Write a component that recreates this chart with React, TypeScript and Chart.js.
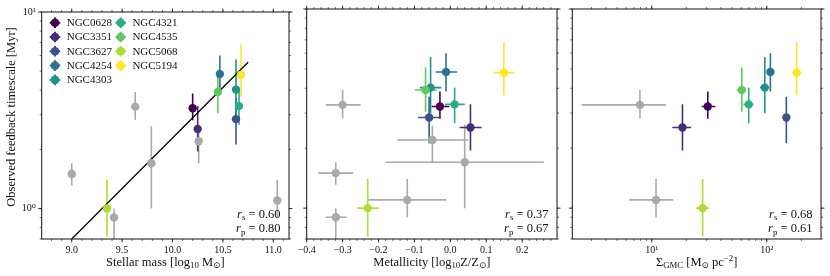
import React, { useEffect, useRef } from 'react';
import { Chart, registerables } from 'chart.js';

Chart.register(...registerables);

const W = 830;
const H = 276;
const FONT = "'Liberation Serif', 'DejaVu Serif', serif";
const INK = '#111111';

// ---------------- data ----------------
const galaxies = ['NGC0628', 'NGC3351', 'NGC3627', 'NGC4254', 'NGC4303', 'NGC4321', 'NGC4535', 'NGC5068', 'NGC5194'];
const galaxyColors = ['#440154', '#472c7a', '#3b528b', '#2c728e', '#21918c', '#28ae80', '#5ec962', '#addc30', '#fde725'];
const GRAY = '#a9a9a9';

// observed feedback timescale [Myr]
const tauFb = [3.24, 2.54, 2.85, 4.83, 4.03, 3.32, 3.92, 1.0, 4.79];
const tauFbLo = [2.81, 1.95, 2.12, 3.85, 3.0, 2.67, 3.05, 0.72, 3.69];
const tauFbHi = [3.85, 3.32, 3.63, 6.0, 5.74, 4.03, 5.08, 1.4, 6.83];

const stellarMass = [10.2, 10.25, 10.63, 10.47, 10.63, 10.66, 10.45, 9.35, 10.68];

const metallicity = [-0.029, 0.056, -0.059, -0.012, -0.055, 0.012, -0.069, -0.23, 0.149];
const metallicityLo = [-0.052, 0.026, -0.09, -0.041, -0.085, -0.015, -0.099, -0.259, 0.119];
const metallicityHi = [-0.003, 0.087, -0.027, 0.019, -0.025, 0.04, -0.038, -0.199, 0.179];

const sigmaGmc = [30.7, 18.5, 148, 107.5, 96.1, 69.7, 60.7, 27.7, 182];
const sigmaGmcLo = [27.2, 15.1, 139, 100, 87.5, 62.6, 54.9, 24.3, 167];
const sigmaGmcHi = [35.7, 22.0, 159, 115.6, 105, 76.4, 66.1, 31.5, 198];

// other galaxies (grey)
const otherTau = [3.3, 1.5, 1.7, 2.2, 0.9, 1.1];
const otherTauLo = [2.83, 1.31, 1.0, 1.7, 0.6, 0.9];
const otherTauHi = [3.92, 1.7, 2.62, 2.59, 1.0, 1.4];
const otherMass = [9.63, 9.0, 9.79, 10.26, 9.42, 11.04];
const otherMetal = [-0.3, -0.319, 0.04, -0.05, -0.319, -0.12];
const otherMetalLo = [-0.347, -0.368, -0.18, -0.148, -0.347, -0.229];
const otherMetalHi = [-0.25, -0.27, 0.26, 0.05, -0.289, -0.011];
const otherGmc = [7.9, null, null, null, null, 10.9];
const otherGmcLo = [2.46, null, null, null, null, 6.35];
const otherGmcHi = [13.3, null, null, null, null, 15.4];

// best-fit relation (stellar mass panel)
const fitMass = [9.0, 10.75];
const fitTau = [0.7, 5.55];

const corrRs = ['0.60', '0.37', '0.68'];
const corrRp = ['0.80', '0.67', '0.61'];

// ticks
const tauTicks = [1, 10];
const tauTickLabels = ['10⁰', '10¹'];
const massTicks = [9.0, 9.5, 10.0, 10.5, 11.0];
const massTickLabels = ['9.0', '9.5', '10.0', '10.5', '11.0'];
const metalTicks = [-0.4, -0.3, -0.2, -0.1, 0, 0.1, 0.2];
const metalTickLabels = ['−0.4', '−0.3', '−0.2', '−0.1', '0.0', '0.1', '0.2'];
const gmcTicks = [10, 100];
const gmcTickLabels = ['10¹', '10²'];

// ---------------- helpers ----------------
type Seg = { t: string; k?: 'sub' | 'sup'; it?: boolean };

function linearMinor(min: number, max: number, step: number) {
  const out: number[] = [];
  for (let k = Math.ceil(min / step - 1e-9); k * step <= max + 1e-9; k++) out.push(+(k * step).toFixed(6));
  return out;
}
function logMinor(min: number, max: number) {
  const out: number[] = [];
  for (let e = -2; e <= 4; e++) for (let m = 1; m <= 9; m++) {
    const v = m * Math.pow(10, e);
    if (v >= min * 0.9999 && v <= max * 1.0001) out.push(v);
  }
  return out;
}

function drawRich(ctx: CanvasRenderingContext2D, segs: Seg[], x: number, y: number, size: number, align: 'left' | 'center' | 'right') {
  const fontFor = (s: Seg) => `${s.it ? 'italic ' : ''}${s.k ? size * 0.7 : size}px ${FONT}`;
  let total = 0;
  const widths = segs.map((s) => {
    ctx.font = fontFor(s);
    const w = ctx.measureText(s.t).width;
    total += w;
    return w;
  });
  let cx = align === 'center' ? x - total / 2 : align === 'right' ? x - total : x;
  ctx.textAlign = 'left';
  ctx.textBaseline = 'alphabetic';
  segs.forEach((s, i) => {
    ctx.font = fontFor(s);
    const dy = s.k === 'sub' ? size * 0.22 : s.k === 'sup' ? -size * 0.38 : 0;
    ctx.fillText(s.t, cx, y + dy);
    cx += widths[i];
  });
}

const decorPlugin = {
  id: 'decor',
  beforeDatasetsDraw(chart: any) {
    const ctx = chart.ctx as CanvasRenderingContext2D;
    const { left, right, top, bottom } = chart.chartArea;
    const xs = chart.scales.x;
    const ys = chart.scales.y;
    ctx.save();
    ctx.beginPath();
    ctx.rect(left, top, right - left, bottom - top);
    ctx.clip();
    const metas = chart.getSortedVisibleDatasetMetas().slice().reverse();
    metas.forEach((meta: any) => {
      const ds = chart.data.datasets[meta.index];
      if (!ds.errorBars) return;
      ctx.strokeStyle = ds.errColor;
      ctx.lineWidth = 1.6;
      ds.data.forEach((p: any, j: number) => {
        const e = ds.errorBars[j];
        const px = xs.getPixelForValue(p.x);
        const py = ys.getPixelForValue(p.y);
        ctx.beginPath();
        ctx.moveTo(px, ys.getPixelForValue(e.yLo));
        ctx.lineTo(px, ys.getPixelForValue(e.yHi));
        if (e.xLo != null) {
          ctx.moveTo(xs.getPixelForValue(e.xLo), py);
          ctx.lineTo(xs.getPixelForValue(e.xHi), py);
        }
        ctx.stroke();
      });
    });
    ctx.restore();
  },
  afterDatasetsDraw(chart: any, _args: any, opts: any) {
    const ctx = chart.ctx as CanvasRenderingContext2D;
    const { left, right, top, bottom } = chart.chartArea;
    const xs = chart.scales.x;
    const ys = chart.scales.y;
    ctx.save();
    ctx.strokeStyle = INK;
    ctx.fillStyle = INK;
    // frame
    ctx.lineWidth = 1;
    ctx.strokeRect(left, top, right - left, bottom - top);
    // ticks
    const tickX = (vals: number[], len: number, lw: number) => {
      ctx.lineWidth = lw;
      ctx.beginPath();
      vals.forEach((v) => {
        const p = xs.getPixelForValue(v);
        if (p < left - 0.5 || p > right + 0.5) return;
        ctx.moveTo(p, bottom);
        ctx.lineTo(p, bottom + len);
        ctx.moveTo(p, top);
        ctx.lineTo(p, top - len);
      });
      ctx.stroke();
    };
    const tickY = (vals: number[], len: number, lw: number) => {
      ctx.lineWidth = lw;
      ctx.beginPath();
      vals.forEach((v) => {
        const p = ys.getPixelForValue(v);
        if (p < top - 0.5 || p > bottom + 0.5) return;
        ctx.moveTo(left, p);
        ctx.lineTo(left - len, p);
        ctx.moveTo(right, p);
        ctx.lineTo(right + len, p);
      });
      ctx.stroke();
    };
    tickX(opts.xMinor, 2, 0.6);
    tickX(opts.xMajor, 3.5, 0.8);
    tickY(opts.yMinor, 2, 0.6);
    tickY(opts.yMajor, 3.5, 0.8);

    // axis title
    drawRich(ctx, opts.xTitle, (left + right) / 2, 265.5, 12.5, 'center');
    if (opts.yTitle) {
      ctx.save();
      ctx.translate(10.5, 117);
      ctx.rotate(-Math.PI / 2);
      drawRich(ctx, opts.yTitle, 0, 4, 12.5, 'center');
      ctx.restore();
    }
    // correlation coefficients
    drawRich(ctx, [{ t: 'r', it: true }, { t: 's', k: 'sub' }, { t: ' = ' + opts.rs }], right - 8.5, 217.5, 12.5, 'right');
    drawRich(ctx, [{ t: 'r', it: true }, { t: 'p', k: 'sub' }, { t: ' = ' + opts.rp }], right - 8.5, 232, 12.5, 'right');

    // legend
    if (opts.legend) {
      galaxies.forEach((name, i) => {
        const col = i < 5 ? 0 : 1;
        const row = i < 5 ? i : i - 5;
        const mx = col === 0 ? 55 : 120.7;
        const my = 22.7 + row * 14.3;
        ctx.strokeStyle = galaxyColors[i];
        ctx.fillStyle = galaxyColors[i];
        ctx.lineWidth = 2;
        ctx.beginPath();
        ctx.moveTo(mx - 5.3, my);
        ctx.lineTo(mx + 5.3, my);
        ctx.moveTo(mx, my - 5.3);
        ctx.lineTo(mx, my + 5.3);
        ctx.stroke();
        ctx.beginPath();
        ctx.arc(mx, my, 4.3, 0, Math.PI * 2);
        ctx.fill();
        ctx.fillStyle = INK;
        ctx.font = `11px ${FONT}`;
        ctx.textAlign = 'left';
        ctx.textBaseline = 'middle';
        ctx.fillText(name, mx + 11.7, my + 0.5);
      });
    }
    ctx.restore();
  },
};

function galaxyDatasets(xs: number[], xLo: number[] | null, xHi: number[] | null) {
  return galaxies.map((name, i) => ({
    type: 'scatter',
    label: name,
    data: [{ x: xs[i], y: tauFb[i] }],
    errorBars: [{ xLo: xLo ? xLo[i] : null, xHi: xHi ? xHi[i] : null, yLo: tauFbLo[i], yHi: tauFbHi[i] }],
    errColor: galaxyColors[i],
    backgroundColor: galaxyColors[i],
    borderColor: galaxyColors[i],
    pointRadius: 4.2,
    pointHoverRadius: 4.2,
    pointBorderWidth: 0,
    order: 10 - i,
  }));
}

function otherDataset(xs: (number | null)[], xLo: (number | null)[] | null, xHi: (number | null)[] | null) {
  const idx = otherTau.map((_, i) => i).filter((i) => xs[i] != null);
  return {
    type: 'scatter',
    label: 'other',
    data: idx.map((i) => ({ x: xs[i], y: otherTau[i] })),
    errorBars: idx.map((i) => ({ xLo: xLo ? xLo[i] : null, xHi: xHi ? xHi[i] : null, yLo: otherTauLo[i], yHi: otherTauHi[i] })),
    errColor: GRAY,
    backgroundColor: GRAY,
    borderColor: GRAY,
    pointRadius: 4.2,
    pointHoverRadius: 4.2,
    pointBorderWidth: 0,
    order: 50,
  };
}

const Y_MIN = 0.7;
const Y_MAX = 10;

const panels = [
  {
    id: 'mass',
    area: { left: 41.7, right: 289, top: 9, bottom: 239 },
    xType: 'linear',
    xMin: 8.702,
    xMax: 11.156,
    xTicks: massTicks,
    xTickLabels: massTickLabels,
    xMinor: linearMinor(8.702, 11.156, 0.1),
    xTitle: [{ t: 'Stellar mass [log' }, { t: '10', k: 'sub' }, { t: ' M' }, { t: '⊙', k: 'sub' }, { t: ']' }] as Seg[],
    showY: true,
    legend: true,
    datasets: [
      ...galaxyDatasets(stellarMass, null, null),
      otherDataset(otherMass, null, null),
      {
        type: 'line',
        label: 'fit',
        data: fitMass.map((m, i) => ({ x: m, y: fitTau[i] })),
        borderColor: '#000000',
        borderWidth: 1.3,
        pointRadius: 0,
        fill: false,
        order: 100,
      },
    ],
    rs: corrRs[0],
    rp: corrRp[0],
  },
  {
    id: 'metal',
    area: { left: 306.7, right: 557, top: 9, bottom: 239 },
    xType: 'linear',
    xMin: -0.4,
    xMax: 0.297,
    xTicks: metalTicks,
    xTickLabels: metalTickLabels,
    xMinor: linearMinor(-0.4, 0.297, 0.02),
    xTitle: [{ t: 'Metallicity [log' }, { t: '10', k: 'sub' }, { t: 'Z/Z' }, { t: '⊙', k: 'sub' }, { t: ']' }] as Seg[],
    showY: false,
    legend: false,
    datasets: [...galaxyDatasets(metallicity, metallicityLo, metallicityHi), otherDataset(otherMetal, otherMetalLo, otherMetalHi)],
    rs: corrRs[1],
    rp: corrRp[1],
  },
  {
    id: 'gmc',
    area: { left: 572.3, right: 821, top: 9, bottom: 239 },
    xType: 'logarithmic',
    xMin: 2.04,
    xMax: 296,
    xTicks: gmcTicks,
    xTickLabels: gmcTickLabels,
    xMinor: logMinor(2.04, 296),
    xTitle: [{ t: 'Σ' }, { t: 'GMC', k: 'sub' }, { t: ' [M' }, { t: '⊙', k: 'sub' }, { t: ' pc' }, { t: '−2', k: 'sup' }, { t: ']' }] as Seg[],
    showY: false,
    legend: false,
    datasets: [...galaxyDatasets(sigmaGmc, sigmaGmcLo, sigmaGmcHi), otherDataset(otherGmc, otherGmcLo, otherGmcHi)],
    rs: corrRs[2],
    rp: corrRp[2],
  },
];

function Panel({ panel }: { panel: any }) {
  const ref = useRef<HTMLCanvasElement>(null);
  useEffect(() => {
    const a = panel.area;
    const chart = new Chart(ref.current as HTMLCanvasElement, {
      type: 'scatter',
      data: { datasets: panel.datasets },
      options: {
        responsive: false,
        animation: false,
        devicePixelRatio: 1,
        events: [],
        layout: {
          padding: { left: 0, right: W - a.right, top: a.top, bottom: 0 },
        },
        plugins: {
          legend: { display: false },
          tooltip: { enabled: false },
          decor: {
            xMajor: panel.xTicks,
            xMinor: panel.xMinor,
            yMajor: tauTicks,
            yMinor: logMinor(Y_MIN, Y_MAX),
            xTitle: panel.xTitle,
            yTitle: panel.showY ? ([{ t: 'Observed feedback timescale [Myr]' }] as Seg[]) : null,
            rs: panel.rs,
            rp: panel.rp,
            legend: panel.legend,
          },
        },
        scales: {
          x: {
            type: panel.xType,
            position: 'bottom',
            min: panel.xMin,
            max: panel.xMax,
            afterFit: (s: any) => {
              s.height = H - a.bottom;
            },
            afterBuildTicks: (s: any) => {
              s.ticks = panel.xTicks.map((v: number) => ({ value: v }));
            },
            grid: { display: false, drawTicks: false, tickLength: 0 },
            border: { display: false },
            ticks: {
              callback: (_v: any, i: number) => panel.xTickLabels[i],
              font: { family: FONT, size: 10 },
              color: INK,
              padding: 5,
              maxRotation: 0,
              autoSkip: false,
            },
          },
          y: {
            type: 'logarithmic',
            position: 'left',
            min: Y_MIN,
            max: Y_MAX,
            afterFit: (s: any) => {
              s.width = a.left;
            },
            afterBuildTicks: (s: any) => {
              s.ticks = tauTicks.map((v: number) => ({ value: v }));
            },
            grid: { display: false, drawTicks: false, tickLength: 0 },
            border: { display: false },
            ticks: {
              display: panel.showY,
              callback: (_v: any, i: number) => tauTickLabels[i],
              font: { family: FONT, size: 10 },
              color: INK,
              padding: 6,
              autoSkip: false,
            },
          },
        },
      } as any,
      plugins: [decorPlugin as any],
    } as any);
    return () => chart.destroy();
  }, [panel]);
  return (
    <canvas
      ref={ref}
      width={W}
      height={H}
      style={{ position: 'absolute', left: 0, top: 0, width: W, height: H }}
    />
  );
}

export default function App() {
  return (
    <div style={{ position: 'absolute', left: 0, top: 0, width: W, height: H, background: '#ffffff', overflow: 'hidden' }}>
      {panels.map((p) => (
        <Panel key={p.id} panel={p} />
      ))}
    </div>
  );
}
